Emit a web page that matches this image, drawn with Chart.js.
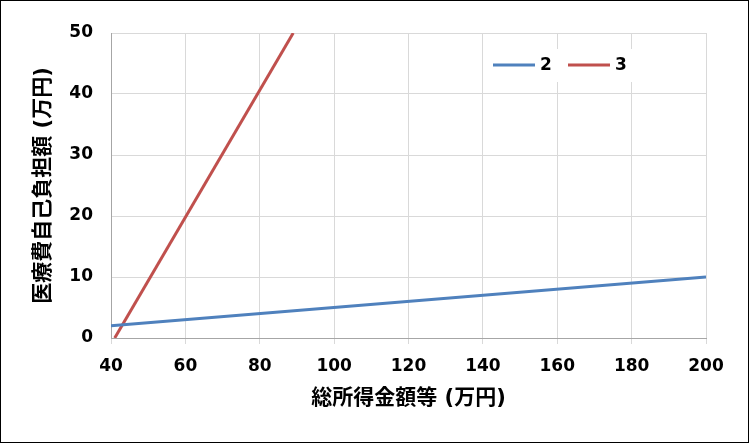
<!DOCTYPE html>
<html>
<head>
<meta charset="utf-8">
<script src="https://cdn.jsdelivr.net/npm/chart.js@4.4.1/dist/chart.umd.min.js"></script>
<style>
  body { margin: 0; background: #fff; }
  #wrap { width: 749px; height: 443px; }
</style>
</head>
<body>
<div id="wrap"><canvas id="myChart"></canvas></div>
<script>
// data
const incomeX = [40, 200];          // 総所得金額等 (万円)
const line2Y = [2, 10];
const line3X = [41, 89];
const line3Y = [0, 50];
const seriesNames = ["2", "3"];
const seriesColors = ["#4F81BD", "#C0504D"];

const xTitle = "総所得金額等 (万円)";
const yTitle = "医療費自己負担額 (万円)";

const tickFont = { family: "'DejaVu Sans', 'Noto Sans CJK JP'", size: 17, weight: "bold" };
const titleFont = { family: "'DejaVu Sans', 'Noto Sans CJK JP'", size: 21, weight: "bold" };

function toPoints(xs, ys) {
  return xs.map((x, i) => ({ x: x, y: ys[i] }));
}

// white page + black frame
const frame = {
  id: "frame",
  beforeDraw(chart) {
    const c = chart.ctx;
    c.save();
    c.fillStyle = "#fff";
    c.fillRect(0, 0, chart.width, chart.height);
    c.restore();
  },
  afterDraw(chart) {
    const c = chart.ctx;
    c.save();
    c.strokeStyle = "#000";
    c.lineWidth = 1;
    c.strokeRect(0.5, 0.5, chart.width - 1, chart.height - 1);
    c.restore();
  }
};

// legend sitting inside the plot, top right
const innerLegend = {
  id: "innerLegend",
  afterDatasetsDraw(chart) {
    const c = chart.ctx;
    const x0 = 487, y0 = 49, w = 150, h = 33;
    c.save();
    c.fillStyle = "#fff";
    c.fillRect(x0, y0, w, h);
    let x = 493;
    const y = 65;
    chart.data.datasets.forEach(ds => {
      c.strokeStyle = ds.borderColor;
      c.lineWidth = 3;
      c.beginPath();
      c.moveTo(x, y);
      c.lineTo(x + 42, y);
      c.stroke();
      c.fillStyle = "#000";
      c.font = "bold 17px 'DejaVu Sans'";
      c.textBaseline = "middle";
      c.fillText(ds.label, x + 47, y + 1);
      x += 75;
    });
    c.restore();
  }
};

const config = {
  type: "scatter",
  data: {
    datasets: [
      {
        label: seriesNames[0],
        data: toPoints(incomeX, line2Y),
        borderColor: seriesColors[0],
        backgroundColor: seriesColors[0],
        showLine: true,
        borderWidth: 3,
        pointRadius: 0
      },
      {
        label: seriesNames[1],
        data: toPoints(line3X, line3Y),
        borderColor: seriesColors[1],
        backgroundColor: seriesColors[1],
        showLine: true,
        borderWidth: 3,
        pointRadius: 0
      }
    ]
  },
  options: {
    responsive: true,
    maintainAspectRatio: false,
    animation: false,
    layout: { padding: { left: 0, right: 43, top: 33, bottom: 0 } },
    plugins: {
      legend: { display: false },
      tooltip: { enabled: false }
    },
    scales: {
      x: {
        type: "linear",
        min: 40,
        max: 200,
        afterFit(scale) { scale.height = 105; },
        ticks: { stepSize: 20, color: "#000", font: tickFont, padding: 12, maxRotation: 0 },
        grid: { color: "#D9D9D9", tickLength: 6, drawTicks: true },
        border: { color: "#A6A6A6" },
        title: { display: true, text: xTitle, color: "#000", font: titleFont, padding: { top: 0, bottom: 32 } }
      },
      y: {
        min: 0,
        max: 50,
        afterFit(scale) { scale.width = 111; },
        ticks: { stepSize: 10, color: "#000", font: tickFont, padding: 18 },
        grid: { color: "#D9D9D9", drawTicks: false },
        border: { color: "#A6A6A6" },
        title: { display: true, text: yTitle, color: "#000", font: titleFont, padding: { top: 31, bottom: 0 } }
      }
    }
  },
  plugins: [frame, innerLegend]
};

var myChart = new Chart(document.getElementById("myChart"), config);
</script>
</body>
</html>
